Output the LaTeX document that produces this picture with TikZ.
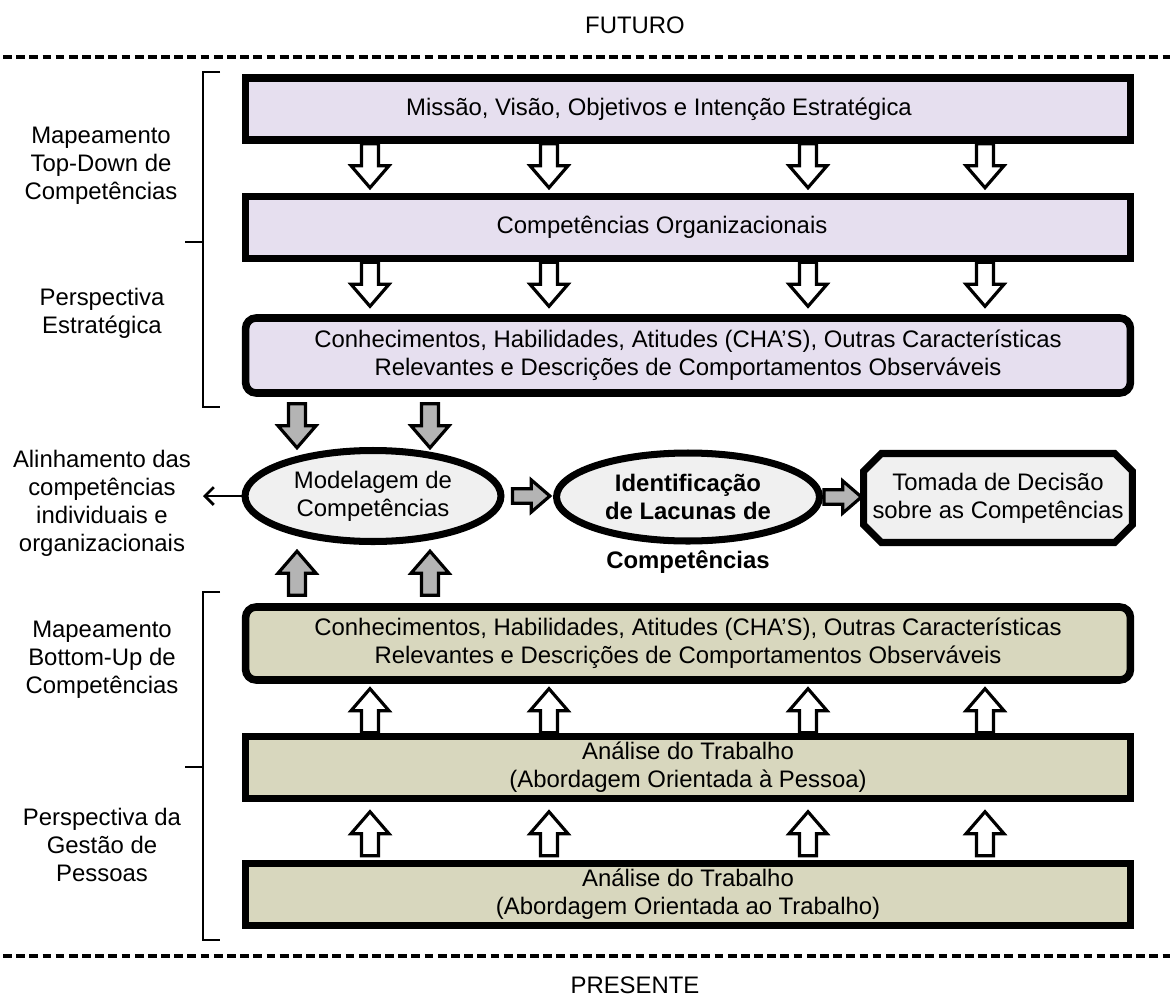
\documentclass[tikz,border=0pt]{standalone}
\usepackage{fontspec}
\setmainfont{Liberation Sans}
\usetikzlibrary{shapes.geometric,shapes.misc,arrows.meta,calc}
\definecolor{lilas}{RGB}{230,223,239}
\definecolor{caqui}{RGB}{216,215,190}
\definecolor{cinzaclaro}{RGB}{240,240,240}
\definecolor{cinza}{RGB}{180,180,180}

\begin{document}
\begin{tikzpicture}[x=0.02cm,y=-0.02cm,%
        font=\fontsize{13.6pt}{16pt}\selectfont,%
        bx/.style={rectangle, draw, line width=4.3pt, inner sep=0pt,%
                        minimum width=17.7cm, minimum height=1.24cm, align=center},%
        rbx/.style={bx, rounded corners=6pt, minimum height=1.5cm},%
        ov/.style={ellipse, draw, line width=4pt, fill=cinzaclaro,%
                        inner sep=0pt, align=center},%
        lbl/.style={inner sep=0pt, align=center},%
        blockarrow/.pic={\draw[line width=1.8pt, fill=#1]
            (-8.5,0) -- (8.5,0) -- (8.5,22) -- (19,22) -- (0,44)
            -- (-19,22) -- (-8.5,22) -- cycle;}]
    \useasboundingbox (0,0) rectangle (1173,997);
    % futuro / presente
    \node[lbl] (fut) at (635,25) {FUTURO};
    \node[lbl] (pres) at (635,985) {PRESENTE};
    \draw[line width=1.8pt, dash pattern=on 5pt off 2.5pt] (3,57) -- (1170,57);
    \draw[line width=1.8pt, dash pattern=on 5pt off 2.5pt] (3,956) -- (1170,956);
    % caixas
    \node[bx, fill=lilas] (b1) at (688,109) {};
    \node[lbl] (b1t) at ($(b1)+(-29,0)$)
        {Missão, Visão, Objetivos e Intenção Estratégica};
    \node[bx, fill=lilas] (b2) at (688,227.5) {};
    \node[lbl] (b2t) at ($(b2)+(-26,0)$) {Competências Organizacionais};
    \node[rbx, fill=lilas] (b3) at (688,355.5)
        {Conhecimentos, Habilidades, Atitudes (CHA’S), Outras Características\\
         Relevantes e Descrições de Comportamentos Observáveis};
    \node[rbx, fill=caqui, minimum height=1.46cm] (b5) at (688,643.5)
        {Conhecimentos, Habilidades, Atitudes (CHA’S), Outras Características\\
         Relevantes e Descrições de Comportamentos Observáveis};
    \node[bx, fill=caqui] (b6) at (688,767.5)
        {Análise do Trabalho\\(Abordagem Orientada à Pessoa)};
    \node[bx, fill=caqui] (b7) at (688,894.5)
        {Análise do Trabalho\\(Abordagem Orientada ao Trabalho)};
    % linha do meio
    \node[ov, minimum width=5.12cm, minimum height=1.82cm] (m1) at (373,496)
        {Modelagem de\\Competências};
    \node[ov, minimum width=5.26cm, minimum height=1.76cm,%
          font=\fontsize{13.6pt}{16pt}\selectfont\bfseries] (m2) at (688,497)
        {Identificação\\de Lacunas de};
    \node[lbl, font=\fontsize{13.6pt}{16pt}\selectfont\bfseries] (m2b) at (688,562)
        {Competências};
    \node[chamfered rectangle, draw, line width=4pt, fill=cinzaclaro,%
          chamfered rectangle xsep=5pt, chamfered rectangle ysep=5pt,%
          minimum width=5.24cm, minimum height=1.78cm, inner sep=0pt, align=center]
        (td) at (998,498) {Tomada de Decisão\\sobre as Competências};
    \coordinate (al) at (203,496);
    \draw[line width=1.6pt, -{Straight Barb[length=5pt,width=10pt]}] (m1.west) -- (al);
    % setas
    \foreach \x in {370,549,808,985} {
        \pic at (\x,0 |- b1.south) {blockarrow=white};
        \pic at (\x,0 |- b2.south) {blockarrow=white};
        \pic[rotate=180] at (\x,0 |- b6.north) {blockarrow=white};
        \pic[rotate=180] at ($(\x,0 |- b7.north)+(0,-4)$) {blockarrow=white};
    }
    \foreach \x in {297,430} {
        \pic at ($(\x,0 |- b3.south)+(0,7)$) {blockarrow=cinza};
        \pic[rotate=180] at ($(\x,0 |- b5.north)+(0,-8)$) {blockarrow=cinza};
    }
    \pic[rotate=90, scale=0.85] at ($(m1.east)+(8,0)$) {blockarrow=cinza};
    \pic[rotate=90, scale=0.85] at ($(m2.east)+(1,0)$) {blockarrow=cinza};
    % chaves
    \draw[line width=1.5pt] (220,72) -- (203,72) -- (203,407) -- (220,407)
        (203,242) -- (185,242);
    \draw[line width=1.5pt] (220,592) -- (203,592) -- (203,940) -- (220,940)
        (203,767) -- (185,767);
    % rotulos
    \node[lbl] (l1) at (101,166) {Mapeamento\\Top-Down de\\Competências};
    \node[lbl] (l2) at (102,313) {Perspectiva\\Estratégica};
    \node[lbl] (l3) at (102,503) {Alinhamento das\\competências\\individuais e\\organizacionais};
    \node[lbl] (l4) at (102,660) {Mapeamento\\Bottom-Up de\\Competências};
    \node[lbl] (l5) at (102,845) {Perspectiva da\\Gestão de\\Pessoas};
\end{tikzpicture}
\end{document}
